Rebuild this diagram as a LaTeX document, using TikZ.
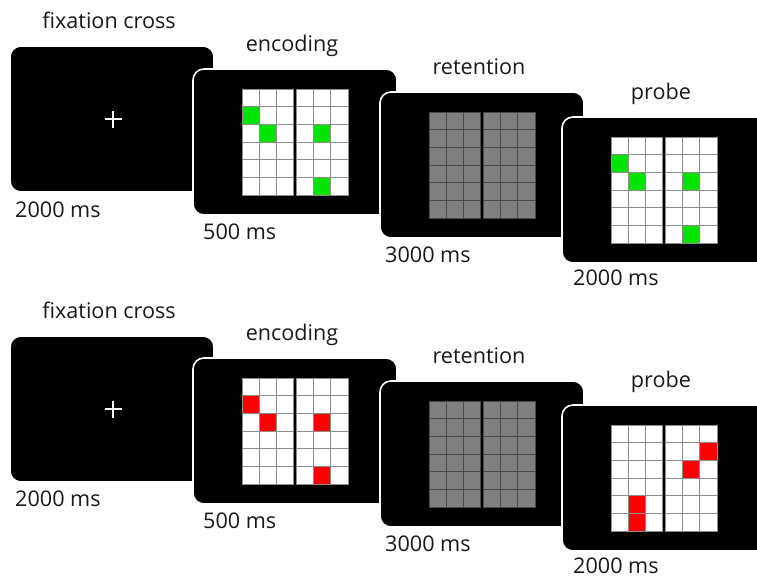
\documentclass[tikz,border=0pt]{standalone}
\usepackage{fontspec}
\setmainfont{Open Sans}

\definecolor{cellgreen}{RGB}{0,226,0}
\definecolor{cellred}{RGB}{255,0,0}
\definecolor{gridgray}{RGB}{140,140,140}
\definecolor{maskfill}{RGB}{128,128,128}
\definecolor{maskline}{RGB}{75,75,75}

\tikzset{
  screenbox/.style={fill=black, draw=white, line width=1.6pt, rounded corners=11pt},
  stagelabel/.style={anchor=base, inner sep=0pt, font=\fontsize{21.6}{25}\selectfont, text=black!90},
  timelabel/.style={anchor=base west, inner sep=0pt, font=\fontsize{21.6}{25}\selectfont, text=black!90},
}

% screen of 204 x 146 with top-left corner (#1,#2)
\newcommand\drawscreen[2]{%
  \draw[screenbox] (#1,#2) rectangle ++(204,146);}

% 2 x (3 x 6) grid inside the screen at (#1,#2); cell fill #3, line colour #4
\newcommand\drawgrid[4]{%
  \foreach \c in {0,...,5}{
    \foreach \r in {0,...,5}{
      \pgfmathsetmacro\gx{#1+49+\c*17.17+(\c>2)*3}
      \pgfmathsetmacro\gy{#2+20+\r*17.67}
      \draw[fill=#3, draw=#4, line width=0.9pt] (\gx,\gy) rectangle ++(17.17,17.67);
    }}}

% coloured square in column #3, row #4 (1..6) of the grid of screen (#1,#2)
\newcommand\markcell[5]{%
  \pgfmathsetmacro\gx{#1+49+(#3-1)*17.17+(#3>3)*3}
  \pgfmathsetmacro\gy{#2+20+(#4-1)*17.67}
  \draw[fill=#5, draw=gridgray, line width=0.9pt] (\gx,\gy) rectangle ++(17.17,17.67);}

% white fixation cross centred in the screen at (#1,#2)
\newcommand\drawcross[2]{%
  \draw[white, line width=1.7pt] (#1+103,#2+64.5) -- (#1+103,#2+81.5)
                                 (#1+94.5,#2+73) -- (#1+111.5,#2+73);}

\begin{document}
\begin{tikzpicture}[x=1pt, y=-1pt]
  \useasboundingbox (0,0) rectangle (757,579);
  \clip (0,0) rectangle (757,579);

  % ---------- upper trial (green) ----------
  \drawscreen{10}{46}
  \drawcross{10}{46}
  \node[stagelabel] (fixA) at (109,28) {fixation cross};
  \node[timelabel] (tfixA) at (15,217) {2000 ms};

  \drawscreen{193}{69}
  \drawgrid{193}{69}{white}{gridgray}
  \markcell{193}{69}{1}{2}{cellgreen}
  \markcell{193}{69}{2}{3}{cellgreen}
  \markcell{193}{69}{5}{3}{cellgreen}
  \markcell{193}{69}{5}{6}{cellgreen}
  \node[stagelabel] (encA) at (292,51) {encoding};
  \node[timelabel] (tencA) at (203,239) {500 ms};

  \drawscreen{380}{92}
  \drawgrid{380}{92}{maskfill}{maskline}
  \node[stagelabel] (retA) at (479,74) {retention};
  \node[timelabel] (tretA) at (385,262) {3000 ms};

  \drawscreen{562}{117}
  \drawgrid{562}{117}{white}{gridgray}
  \markcell{562}{117}{1}{2}{cellgreen}
  \markcell{562}{117}{2}{3}{cellgreen}
  \markcell{562}{117}{5}{3}{cellgreen}
  \markcell{562}{117}{5}{6}{cellgreen}
  \node[stagelabel] (proA) at (661,99) {probe};
  \node[timelabel] (tproA) at (573,285) {2000 ms};

  % ---------- lower trial (red) ----------
  \drawscreen{10}{336}
  \drawcross{10}{336}
  \node[stagelabel] (fixB) at (109,318) {fixation cross};
  \node[timelabel] (tfixB) at (15,506) {2000 ms};

  \drawscreen{193}{358}
  \drawgrid{193}{358}{white}{gridgray}
  \markcell{193}{358}{1}{2}{cellred}
  \markcell{193}{358}{2}{3}{cellred}
  \markcell{193}{358}{5}{3}{cellred}
  \markcell{193}{358}{5}{6}{cellred}
  \node[stagelabel] (encB) at (292,340) {encoding};
  \node[timelabel] (tencB) at (203,528) {500 ms};

  \drawscreen{380}{381}
  \drawgrid{380}{381}{maskfill}{maskline}
  \node[stagelabel] (retB) at (479,363) {retention};
  \node[timelabel] (tretB) at (385,551) {3000 ms};

  \drawscreen{562}{405}
  \drawgrid{562}{405}{white}{gridgray}
  \markcell{562}{405}{2}{5}{cellred}
  \markcell{562}{405}{2}{6}{cellred}
  \markcell{562}{405}{6}{2}{cellred}
  \markcell{562}{405}{5}{3}{cellred}
  \node[stagelabel] (proB) at (661,387) {probe};
  \node[timelabel] (tproB) at (573,573) {2000 ms};
\end{tikzpicture}
\end{document}
